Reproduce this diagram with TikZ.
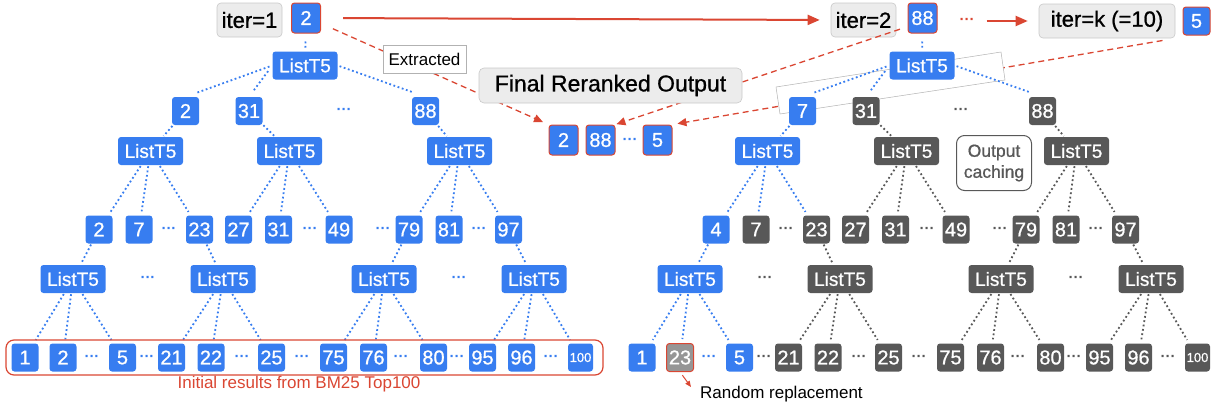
\documentclass[tikz,border=0pt]{standalone}
\usepackage{fontspec}
\setmainfont{Liberation Sans}
\newfontfamily\boxfont{Liberation Sans}[FakeBold=0.8]
\usetikzlibrary{arrows.meta}
\pgfdeclarelayer{bg}
\pgfsetlayers{bg,main}
\definecolor{bl}{RGB}{55,125,240}
\definecolor{dg}{RGB}{88,88,88}
\definecolor{rd}{RGB}{218,70,50}
\definecolor{lg}{RGB}{236,236,236}
\definecolor{lgb}{RGB}{200,200,200}
\definecolor{mg}{RGB}{150,150,150}
\newcommand{\fs}[1]{\fontsize{#1}{#1}\selectfont}
\tikzset{
 numbox/.style={rounded corners=3pt, inner sep=0pt, text=white, font=\boxfont\fs{20}, minimum width=27pt, minimum height=28pt},
 bnum/.style={numbox, fill=bl},
 gnum/.style={numbox, fill=dg},
 lnum/.style={numbox, fill=mg, draw=rd, line width=1pt},
 rnum/.style={numbox, fill=bl, draw=rd, line width=1pt, minimum width=29pt, minimum height=30pt},
 blist/.style={numbox, fill=bl, minimum width=65pt, font=\boxfont\fs{19}},
 glist/.style={blist, fill=dg},
 bdots/.style={inner sep=0pt, text=bl, font=\fs{15}\bfseries},
 gdots/.style={bdots, text=dg},
 rdots/.style={bdots, text=rd},
 bline/.style={draw=bl, line width=1.8pt, dash pattern=on 1.8pt off 2.6pt},
 gline/.style={bline, draw=dg},
 iterbox/.style={fill=lg, draw=lgb, line width=0.6pt, rounded corners=4pt, minimum height=34pt, inner sep=0pt, font=\boxfont\fs{22}},
 runline/.style={draw=rd, line width=2pt, -{Triangle[length=12pt,width=10pt]}},
 extline/.style={draw=rd, line width=1.3pt, dash pattern=on 6pt off 4pt, -{Triangle[length=9pt,width=8pt]}},
}
\begin{document}
\begin{tikzpicture}[x=1pt,y=-1pt]
\useasboundingbox (0,0) rectangle (1220,407);

% ---------- top row ----------
\node[iterbox, minimum width=65pt] (it1) at (249.5,20) {iter=1};
\node[rnum] (t2) at (306,18) {2};
\node[iterbox, minimum width=65pt] (it2) at (863.5,20) {iter=2};
\node[rnum] (t88) at (922.5,18) {88};
\node[rdots] (tdots) at (967,21) {···};
\node[iterbox, minimum width=136pt] (itk) at (1107,21) {iter=k (=10)};
\node[rnum, minimum width=27pt, minimum height=28pt] (t5) at (1196.5,21) {5};

% ---------- final output row ----------
\node[rnum] (f2) at (563.5,140) {2};
\node[rnum] (f88) at (600.5,140) {88};
\node[bdots] (fd) at (630,141) {···};
\node[rnum] (f5) at (657.5,140) {5};

% ---------- left tree ----------
\node[blist] (lR) at (305,65.5) {ListT5};
\node[bnum] (lA1) at (185.5,111) {2};
\node[bnum] (lA2) at (249,111) {31};
\node[bdots] (lAd) at (344,111) {···};
\node[bnum] (lA3) at (425.5,111) {88};
\node[blist] (lB1) at (150.5,151) {ListT5};
\node[blist] (lB2) at (289.5,151) {ListT5};
\node[blist] (lB3) at (459.5,151) {ListT5};
\foreach \n/\x/\t in {1/99/2, 2/139/7, 3/199.5/23, 4/238.5/27, 5/278.5/31, 6/339/49, 7/409/79, 8/449/81, 9/508.5/97}
  \node[bnum] (lC\n) at (\x,229.5) {\t};
\foreach \x in {169,310,383,479}
  \node[bdots] (lCd\x) at (\x,230) {···};
\node[blist] (lD1) at (73,279) {ListT5};
\node[blist] (lD2) at (223,279) {ListT5};
\node[blist] (lD3) at (384,279) {ListT5};
\node[blist] (lD4) at (534,279) {ListT5};
\foreach \x in {148,459}
  \node[bdots] (lDd\x) at (\x,279.5) {···};
\foreach \n/\x/\t in {1/25/1, 2/63/2, 3/122.5/5, 4/171.5/21, 5/211/22, 6/271.5/25, 7/333.5/75, 8/373.5/76, 9/433.5/80, 10/482.5/95, 11/521.5/96}
  \node[bnum] (lE\n) at (\x,357.5) {\t};
\node[bnum, font=\boxfont\fs{13}, minimum width=25pt] (lE12) at (580.5,357.5) {100};
\foreach \x in {92,147,242,302,401,457,551}
  \node[bdots] (lEd\x) at (\x,358) {···};

% ---------- right tree ----------
\node[blist] (rR) at (922,65.5) {ListT5};
\node[bnum] (rA1) at (802.5,111) {7};
\node[gnum] (rA2) at (866,111) {31};
\node[gdots] (rAd) at (961,111) {···};
\node[gnum] (rA3) at (1042.5,111) {88};
\node[blist] (rB1) at (767.5,151) {ListT5};
\node[glist] (rB2) at (906.5,151) {ListT5};
\node[glist] (rB3) at (1076.5,151) {ListT5};
\node[draw=dg, line width=1pt, fill=white, rounded corners=8pt, minimum width=75pt, minimum height=55pt,
      align=center, text=dg, font=\boxfont\fontsize{17.5}{21}\selectfont, inner sep=0pt] (oc) at (994,163) {Output\\caching};
\foreach \n/\x/\t/\s in {1/716/4/bnum, 2/756/7/gnum, 3/816.5/23/gnum, 4/855.5/27/gnum, 5/895.5/31/gnum, 6/956/49/gnum, 7/1026/79/gnum, 8/1066/81/gnum, 9/1125.5/97/gnum}
  \node[\s] (rC\n) at (\x,229.5) {\t};
\foreach \x in {786,927,1000,1096}
  \node[gdots] (rCd\x) at (\x,230) {···};
\node[blist] (rD1) at (690,279) {ListT5};
\node[glist] (rD2) at (840,279) {ListT5};
\node[glist] (rD3) at (1001,279) {ListT5};
\node[glist] (rD4) at (1151,279) {ListT5};
\foreach \x in {765,1076}
  \node[gdots] (rDd\x) at (\x,279.5) {···};
\foreach \n/\x/\t/\s in {1/642/1/bnum, 2/680/23/lnum, 3/739.5/5/bnum, 4/788.5/21/gnum, 5/828/22/gnum, 6/888.5/25/gnum, 7/950.5/75/gnum, 8/990.5/76/gnum, 9/1050.5/80/gnum, 10/1099.5/95/gnum, 11/1138.5/96/gnum}
  \node[\s] (rE\n) at (\x,357.5) {\t};
\node[gnum, font=\boxfont\fs{13}, minimum width=25pt] (rE12) at (1197.5,357.5) {100};
\node[bdots] (rEd709) at (709,358) {···};
\foreach \x in {764,859,919,1018,1074,1168}
  \node[gdots] (rEd\x) at (\x,358) {···};

% ---------- background: dashed line hidden by white frame ----------
\begin{pgfonlayer}{bg}
  \draw[extline, shorten <=13pt, shorten >=5pt] (itk.south east) -- (f5.north east);
  \draw[fill=white, draw=black!30, line width=0.5pt] (776,87) -- (1001,52) -- (1005,80) -- (780,114) -- cycle;
\end{pgfonlayer}

% ---------- iteration arrows ----------
\draw[runline, shorten <=22pt, shorten >=11pt] (t2.east) -- (it2.west);
\draw[runline, shorten <=12pt, shorten >=11pt] (tdots.east) -- (itk.west);
\draw[extline, shorten <=13pt, shorten >=6pt] (t2.-20) -- (f2.north west);
\draw[extline, shorten <=8pt, shorten >=1pt] (t88.-150) -- (f88.north east);

% ---------- left tree connectors ----------
\draw[bline, shorten <=8pt, shorten >=2pt] (t2) -- (lR);
\draw[bline, shorten <=3pt, shorten >=12pt] (lR.west) -- (lA1.north);
\draw[bline, shorten <=7pt, shorten >=7pt] (lR.west) -- (lA2.north);
\draw[bline, shorten <=2pt, shorten >=14pt] (lR.east) -- (lA3.north);
\foreach \p/\c in {A1/B1,A2/B2,A3/B3,C1/D1,C3/D2,C7/D3,C9/D4}
  \draw[bline, shorten <=1pt, shorten >=1pt] (l\p) -- (l\c);
\foreach \p/\c in {B1/C1,B1/C2,B1/C3,B2/C4,B2/C5,B2/C6,B3/C7,B3/C8,B3/C9,D1/E1,D1/E2,D1/E3,D2/E4,D2/E5,D2/E6,D3/E7,D3/E8,D3/E9,D4/E10,D4/E11,D4/E12}
  \draw[bline, shorten <=1pt, shorten >=4pt] (l\p) -- (l\c);

% ---------- right tree connectors ----------
\draw[bline, shorten <=8pt, shorten >=2pt] (t88) -- (rR);
\draw[bline, shorten <=3pt, shorten >=12pt] (rR.west) -- (rA1.north);
\draw[bline, shorten <=7pt, shorten >=7pt] (rR.west) -- (rA2.north);
\draw[bline, shorten <=2pt, shorten >=14pt] (rR.east) -- (rA3.north);
\foreach \p/\c/\s in {A1/B1/bline,A2/B2/gline,A3/B3/gline,C1/D1/bline,C3/D2/gline,C7/D3/gline,C9/D4/gline}
  \draw[\s, shorten <=1pt, shorten >=1pt] (r\p) -- (r\c);
\foreach \p/\c/\s in {B1/C1/bline,B1/C2/bline,B1/C3/bline,B2/C4/gline,B2/C5/gline,B2/C6/gline,B3/C7/gline,B3/C8/gline,B3/C9/gline,D1/E1/bline,D1/E2/bline,D1/E3/bline,D2/E4/gline,D2/E5/gline,D2/E6/gline,D3/E7/gline,D3/E8/gline,D3/E9/gline,D4/E10/gline,D4/E11/gline,D4/E12/gline}
  \draw[\s, shorten <=1pt, shorten >=4pt] (r\p) -- (r\c);

% ---------- labels over the dashed lines ----------
\node[draw=black!30, fill=white, line width=0.6pt, minimum width=83pt, minimum height=28pt, inner sep=0pt, font=\fs{17}] (ex) at (424.5,59) {Extracted};
\node[fill=lg, draw=lgb, line width=0.6pt, rounded corners=5pt, minimum width=263pt, minimum height=35pt, inner sep=0pt, font=\boxfont\fs{23}] (fin) at (610.5,85.5) {Final Reranked Output};

% ---------- enclosure and captions ----------
\draw[rd, line width=1.2pt, rounded corners=8pt] (6,340) rectangle (603,375);
\node[text=rd, inner sep=0pt, font=\fs{17}] (ini) at (299,384) {Initial results from BM25 Top100};
\node[anchor=west, inner sep=0pt, font=\fs{17}] (rr) at (700,394.5) {Random replacement};
\coordinate (rtip) at (691,387);
\draw[rd, line width=1pt, -{Triangle[length=6pt,width=5pt]}, shorten <=4pt] (rE2.south) -- (rtip);
\end{tikzpicture}
\end{document}
